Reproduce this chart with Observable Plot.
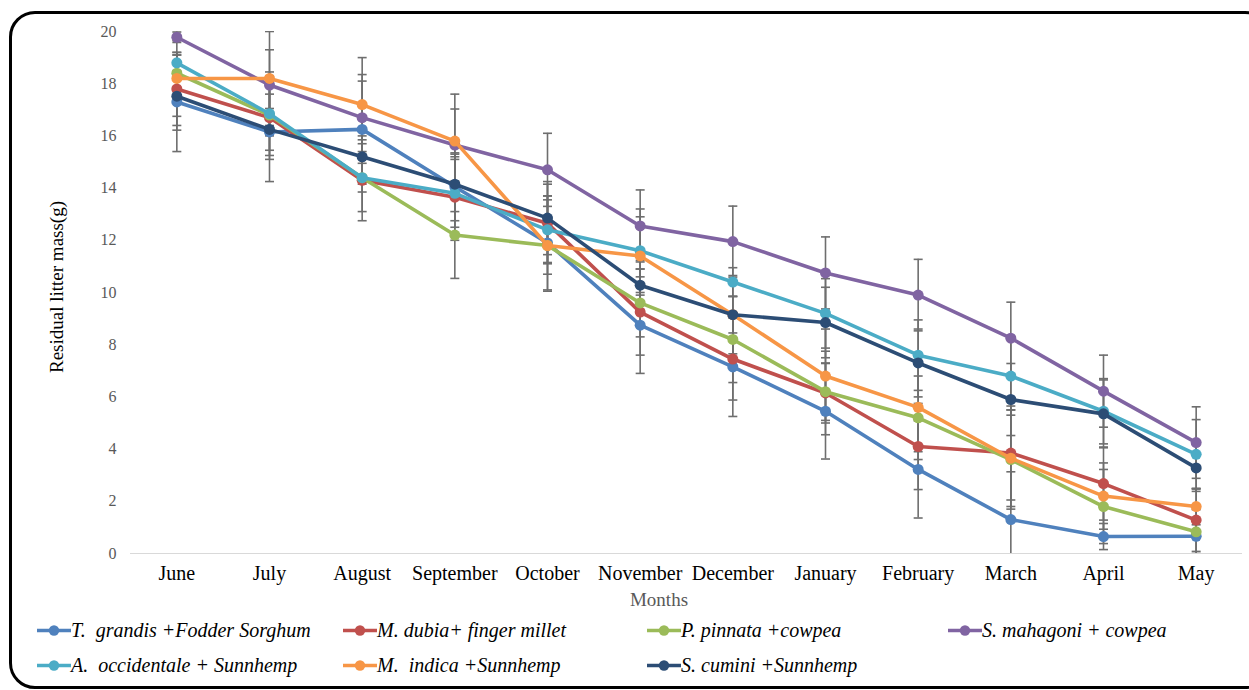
<!DOCTYPE html>
<html><head><meta charset="utf-8">
<script src="https://cdn.jsdelivr.net/npm/d3@7"></script>
<script src="https://cdn.jsdelivr.net/npm/@observablehq/plot@0.6"></script>
<style>
body{margin:0;background:#fff;width:1249px;height:690px;overflow:hidden;position:relative;font-family:"Liberation Serif","Times New Roman",serif;}
#frame{position:absolute;left:9px;top:11px;width:1262px;height:678px;border:3px solid #000;border-radius:26px;box-sizing:border-box;}
#chart{position:absolute;left:0;top:0;}
.ytitle{position:absolute;left:57px;top:287px;transform:translate(-50%,-50%) rotate(-90deg);font-size:19px;white-space:nowrap;color:#000;}
.xtitle{position:absolute;left:659px;top:600px;transform:translate(-50%,-50%);font-size:19px;color:#595959;}
.leg{position:absolute;display:flex;align-items:center;font-style:italic;font-size:20px;white-space:pre;color:#000;transform:translateY(-50%);}
</style></head><body>
<div id="frame"></div>
<div id="chart"></div>
<div class="ytitle">Residual litter mass(g)</div>
<div class="xtitle">Months</div>
<div id="legend"></div>
<script>
const months = ["June","July","August","September","October","November","December","January","February","March","April","May"];
const seriesNames = ["T.  grandis +Fodder Sorghum","M. dubia+ finger millet","P. pinnata +cowpea","S. mahagoni + cowpea","A.  occidentale + Sunnhemp","M.  indica +Sunnhemp","S. cumini +Sunnhemp"];
const colors = ["#4F81BD","#C0504D","#9BBB59","#8064A2","#4BACC6","#F79646","#2C4D75"];
const yTicks = [0,2,4,6,8,10,12,14,16,18,20];

// mean residual litter mass (g)
const tGrandis   = [17.3, 16.15, 16.25, 14.05, 11.9, 8.75, 7.15, 5.45, 3.22, 1.3, 0.65, 0.66];
const mDubia     = [17.8, 16.7, 14.3, 13.65, 12.65, 9.25, 7.45, 6.15, 4.1, 3.85, 2.68, 1.28];
const pPinnata   = [18.4, 16.8, 14.4, 12.2, 11.8, 9.6, 8.2, 6.2, 5.2, 3.6, 1.8, 0.83];
const sMahagoni  = [19.78, 17.95, 16.7, 15.65, 14.7, 12.55, 11.95, 10.75, 9.9, 8.25, 6.22, 4.25];
const aOccid     = [18.8, 16.85, 14.4, 13.8, 12.4, 11.6, 10.4, 9.2, 7.6, 6.8, 5.45, 3.8];
const mIndica    = [18.2, 18.2, 17.2, 15.8, 11.8, 11.4, 9.15, 6.8, 5.6, 3.65, 2.2, 1.8];
const sCumini    = [17.52, 16.25, 15.2, 14.15, 12.85, 10.28, 9.15, 8.85, 7.3, 5.9, 5.35, 3.28];

// error bar half-widths
const tGrandisErr  = [1.9, 1.9, 2.1, 1.3, 1.8, 1.85, 1.9, 1.83, 1.86, 1.83, 0.5, 0.66];
const mDubiaErr    = [1.4, 1.6, 1.55, 1.65, 1.5, 1.65, 1.57, 1.6, 1.65, 1.8, 1.4, 1.2];
const pPinnataErr  = [0.7, 0.8, 1.3, 1.66, 1.75, 1.3, 1.65, 1.1, 1.6, 1.9, 1.42, 0.85];
const sMahagoniErr = [0.2, 1.35, 1.4, 1.38, 1.4, 1.38, 1.36, 1.38, 1.37, 1.38, 1.38, 1.37];
const aOccidErr    = [0.3, 1.6, 0.55, 1.3, 1.3, 1.6, 0.55, 1.33, 1.35, 1.5, 1.25, 1.33];
const mIndicaErr   = [1.45, 1.8, 1.8, 1.8, 1.1, 1.5, 1.5, 1.8, 1.7, 1.85, 1.27, 0.7];
const sCuminiErr   = [1.3, 0.8, 0.8, 1.05, 1.4, 0.95, 0.7, 1.35, 1.3, 1.38, 1.3, 0.9];

const values = [tGrandis, mDubia, pPinnata, sMahagoni, aOccid, mIndica, sCumini];
const errors = [tGrandisErr, mDubiaErr, pPinnataErr, sMahagoniErr, aOccidErr, mIndicaErr, sCuminiErr];

const data = [];
seriesNames.forEach((s, i) => months.forEach((m, j) => {
  data.push({series: s, month: m, value: values[i][j], lo: values[i][j] - errors[i][j], hi: values[i][j] + errors[i][j]});
}));

const cap = {draw(ctx) { ctx.moveTo(-4.5, 0); ctx.lineTo(4.5, 0); }};
const errColor = "#6e6e6e";

const marks = [
  Plot.ruleY([0], {stroke: "#d9d9d9", strokeWidth: 1.2}),
  Plot.axisY({ticks: yTicks, tickSize: 0, tickPadding: 14, fontSize: 16, color: "#595959", label: null}),
  Plot.axisX({tickSize: 0, tickPadding: 12, fontSize: 20, color: "#000", label: null}),
  Plot.ruleX(data, {x: "month", y1: "lo", y2: "hi", stroke: errColor, strokeWidth: 1.6, clip: true}),
  Plot.dot(data, {x: "month", y: "lo", symbol: cap, fill: "none", stroke: errColor, strokeWidth: 1.6, clip: true}),
  Plot.dot(data, {x: "month", y: "hi", symbol: cap, fill: "none", stroke: errColor, strokeWidth: 1.6, clip: true})
];
seriesNames.forEach((s, i) => {
  const d = data.filter(r => r.series === s);
  marks.push(Plot.line(d, {x: "month", y: "value", stroke: colors[i], strokeWidth: 3.6, strokeLinejoin: "round"}));
  marks.push(Plot.dot(d, {x: "month", y: "value", fill: colors[i], r: 5.5}));
});

const chart = Plot.plot({
  width: 1249, height: 590,
  marginLeft: 130, marginRight: 7, marginTop: 31, marginBottom: 37,
  style: {fontFamily: "'Liberation Serif','Times New Roman',serif", background: "transparent", overflow: "visible"},
  x: {type: "point", domain: months, padding: 0.5, round: false},
  y: {domain: [0, 20]},
  marks
});
document.getElementById("chart").appendChild(chart);

const legendPos = [[37, 630], [343, 630], [647, 630], [948, 630], [37, 665], [343, 665], [647, 665]];
const legend = document.getElementById("legend");
seriesNames.forEach((name, si) => {
  const [lx, ly] = legendPos[si];
  const div = document.createElement("div");
  div.className = "leg";
  div.style.left = lx + "px";
  div.style.top = ly + "px";
  div.innerHTML = `<svg width="34" height="14"><line x1="0" y1="7" x2="34" y2="7" stroke="${colors[si]}" stroke-width="3.6"/><circle cx="17" cy="7" r="5.2" fill="${colors[si]}"/></svg><span>${name}</span>`;
  legend.appendChild(div);
});
</script>
</body></html>
